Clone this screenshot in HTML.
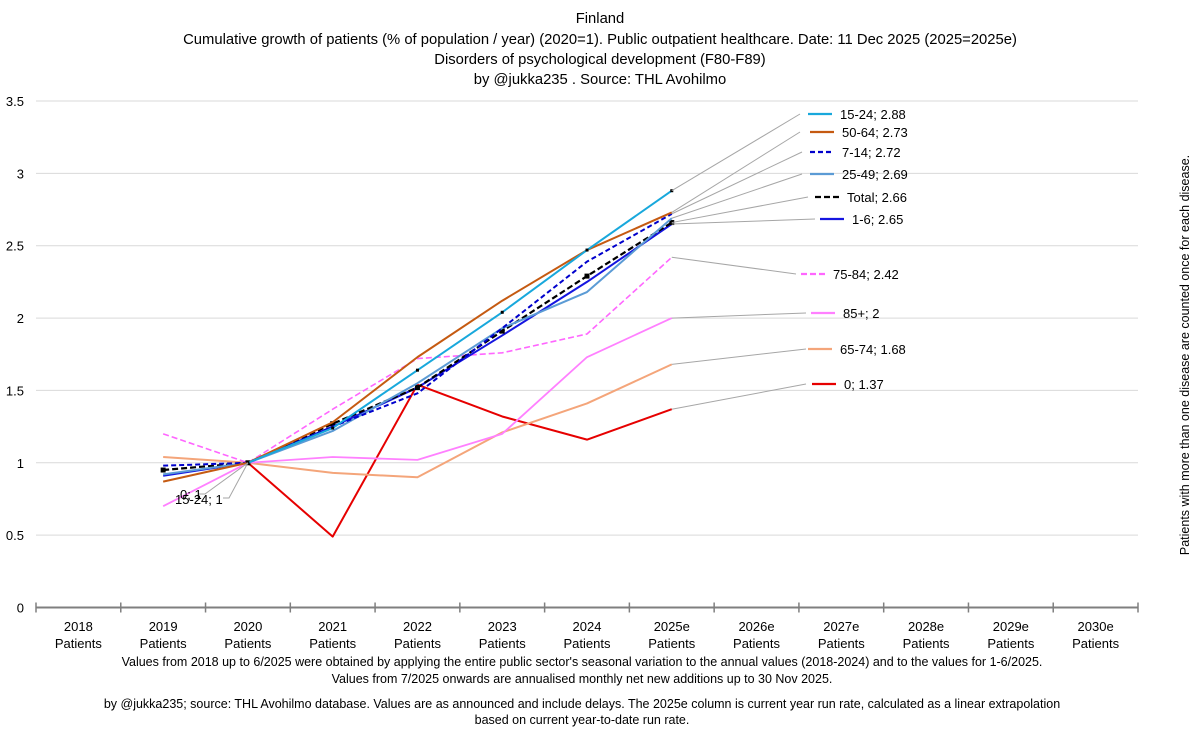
<!DOCTYPE html>
<html><head><meta charset="utf-8"><style>
body{margin:0;background:#fff;font-family:"Liberation Sans",sans-serif;}
svg text{font-family:"Liberation Sans",sans-serif;fill:#000;}
</style></head><body>
<svg id="c" width="1199" height="738" xmlns="http://www.w3.org/2000/svg">
<rect width="1199" height="738" fill="#fff"/>
<g font-size="14.8" text-anchor="middle">
<text x="600" y="23">Finland</text>
<text x="600" y="44">Cumulative growth of patients (% of population / year) (2020=1).  Public outpatient healthcare. Date: 11 Dec 2025 (2025=2025e)</text>
<text x="600" y="64">Disorders of psychological development (F80-F89)</text>
<text x="600" y="84">by @jukka235 . Source: THL Avohilmo</text>
</g>
<g id="grid"></g><g id="series"></g><g id="labels"></g>
<text transform="translate(1189,355) rotate(-90)" font-size="12.5" text-anchor="middle">Patients with more than one disease are counted once for each disease.</text>
<g font-size="12.5" text-anchor="middle">
<text x="582" y="666">Values from 2018 up to 6/2025 were obtained by applying the entire public sector's seasonal variation to the annual values (2018-2024) and to the values for 1-6/2025.</text>
<text x="582" y="683">Values from 7/2025 onwards are annualised monthly net new additions up to 30 Nov 2025.</text>
<text x="582" y="708">by @jukka235; source: THL Avohilmo database. Values are as announced and include delays. The 2025e column is current year run rate, calculated as a linear extrapolation</text>
<text x="582" y="724">based on current year-to-date run rate.</text>
</g>
</svg>
<script>
const categories=["2018","2019","2020","2021","2022","2023","2024","2025e","2026e","2027e","2028e","2029e","2030e"];
const yTicks=[0,0.5,1,1.5,2,2.5,3,3.5];
const names=["15-24","50-64","7-14","25-49","Total","1-6","75-84","85+","65-74","0"];
const s1524=[null,null,1,1.24,1.64,2.04,2.47,2.88];
const s5064=[null,0.87,1,1.28,1.73,2.12,2.47,2.73];
const s714=[null,0.98,1,1.25,1.48,1.93,2.39,2.72];
const s2549=[null,0.92,1,1.22,1.55,1.93,2.18,2.69];
const sTotal=[null,0.95,1,1.27,1.52,1.91,2.29,2.66];
const s16=[null,0.91,1,1.25,1.52,1.88,2.25,2.65];
const s7584=[null,1.20,1,1.37,1.72,1.76,1.89,2.42];
const s85=[null,0.70,1,1.04,1.02,1.20,1.73,2.00];
const s6574=[null,1.04,1,0.93,0.90,1.21,1.41,1.68];
const s0=[null,null,1,0.49,1.54,1.32,1.16,1.37];
const values=[s1524,s5064,s714,s2549,sTotal,s16,s7584,s85,s6574,s0];
const styles=[["#18a8dc",2,""],["#c55a11",2,""],["#0000cc",2,"5,3"],["#5b9bd5",2,""],["#000",2.2,"6,3"],["#1515e0",2,""],["#ff66ff",1.6,"6,3"],["#ff80ff",1.8,""],["#f4a57a",2,""],["#e60000",2,""]];
const legendPos=[[800,114,808],[800,132,810],[802,152,810],[802,174,810],[808,197,815],[815,219,820],[796,274,801],[806,313,811],[806,349,808],[806,384,812]];
const NS="http://www.w3.org/2000/svg";
const L=36,R=1138,T=101,B=607.5;
const cw=(R-L)/categories.length;
const x=i=>L+cw*(i+0.5);
const y=v=>B-(v/3.5)*(B-T);
function mk(t,a,p){const e=document.createElementNS(NS,t);for(const k in a)e.setAttribute(k,a[k]);p.appendChild(e);return e;}
const g=document.getElementById('grid');
yTicks.forEach(v=>{
 if(v>0){const ln=mk('line',{x1:L,x2:R,y1:y(v),y2:y(v),stroke:'#d9d9d9','stroke-width':1},g);
 
 }
 const t=mk('text',{x:24,y:y(v)+5,'font-size':13,'text-anchor':'end'},g);t.textContent=v;
 
 
});
const ax=mk('line',{x1:L,x2:R,y1:B,y2:B,stroke:'#7f7f7f','stroke-width':2},g);


for(let i=0;i<=categories.length;i++){const tk=mk('line',{x1:L+cw*i,x2:L+cw*i,y1:B-5,y2:B+5,stroke:'#7f7f7f','stroke-width':1.5},g);

}
categories.forEach((c,i)=>{
 const t=mk('text',{x:x(i),y:631,'font-size':13,'text-anchor':'middle'},g);t.textContent=c;
 
 
 const t2=mk('text',{x:x(i),y:648,'font-size':13,'text-anchor':'middle'},g);t2.textContent='Patients';
 
 
});
const sg=document.getElementById('series'),lg=document.getElementById('labels');
for(let k=values.length-1;k>=0;k--){
 const d=values[k].map((v,i)=>v==null?null:x(i)+','+y(v)).filter(p=>p).join(' ');
 const [col,w,da]=styles[k];
 const pl=mk('polyline',{points:d,fill:'none',stroke:col,'stroke-width':w,'stroke-dasharray':da,'stroke-linejoin':'round'},sg);
 
 
 if(k===0||k===4){values[k].forEach((v,i)=>{if(v==null)return;
  const m=mk('rect',{x:x(i)-(k?2.5:1.5),y:y(v)-(k?2.5:1.5),width:k?5:3,height:k?5:3,fill:'#000'},sg);
  
  });}
}
values.forEach((vals,k)=>{
 const last=vals.length-1,v=vals[last];
 const [lx,ly,sx]=legendPos[k];const [col,w,da]=styles[k];
 const c=mk('line',{x1:x(last),y1:y(v),x2:lx,y2:ly,stroke:'#a6a6a6','stroke-width':1},lg);
 
 
 const s=mk('line',{x1:sx,x2:sx+24,y1:ly,y2:ly,stroke:col,'stroke-width':2.2,'stroke-dasharray':da},lg);
 
 
 const t=mk('text',{x:sx+32,y:ly+5,'font-size':13},lg);t.textContent=names[k]+'; '+(Math.round(v*100)/100);
 
 
});
const l1=mk('polyline',{points:x(2)+','+y(1)+' 229,498 223,498',fill:'none',stroke:'#a6a6a6','stroke-width':1},lg);


const l2=mk('polyline',{points:x(2)+','+y(1)+' 205,494 198,494',fill:'none',stroke:'#a6a6a6','stroke-width':1},lg);


const a=mk('text',{x:180,y:499,'font-size':13},lg);a.textContent='0; 1';


const b=mk('text',{x:175,y:504,'font-size':13},lg);b.textContent='15-24; 1';


</script>
</body></html>
